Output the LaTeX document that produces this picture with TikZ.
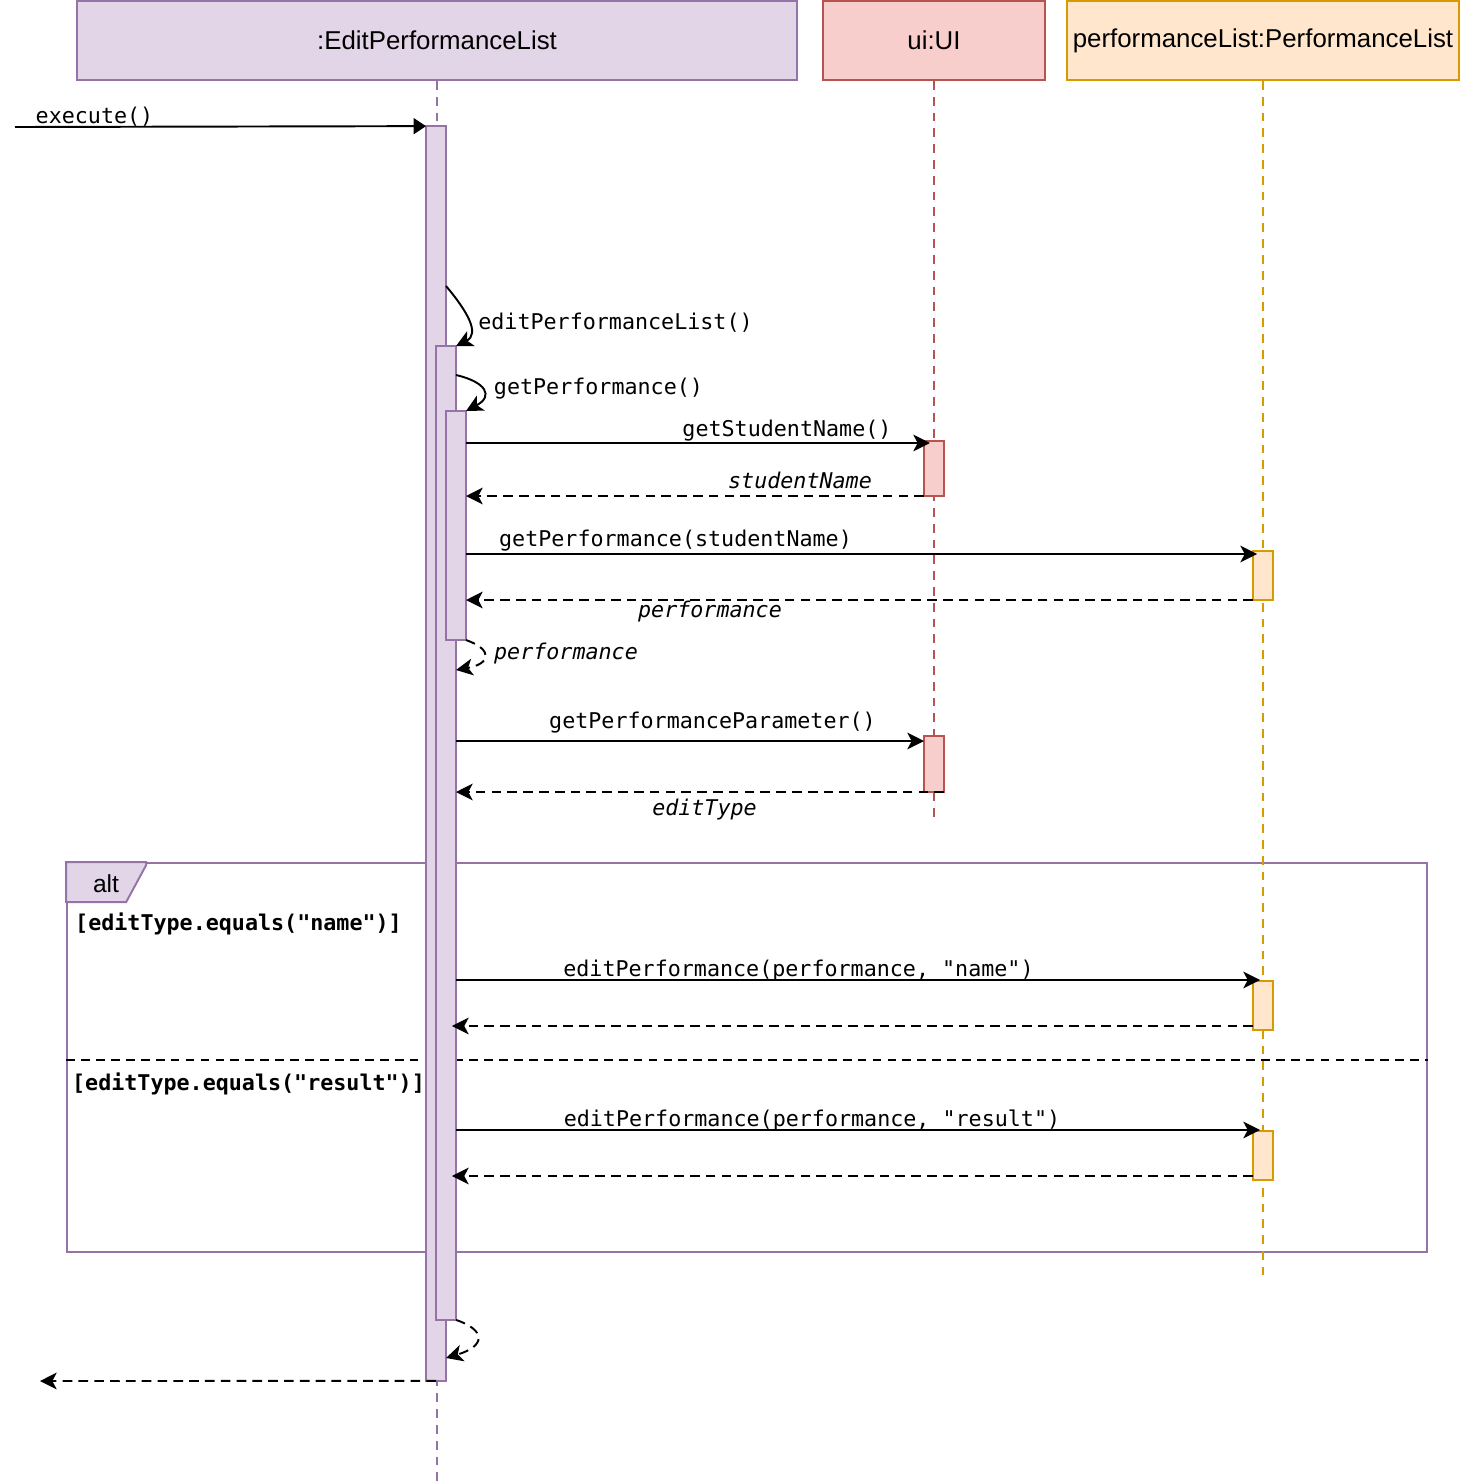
\documentclass[tikz,border=0pt]{standalone}
\usepackage{fontspec}
\setmainfont{Liberation Sans}
\setmonofont{DejaVu Sans Mono}
\usetikzlibrary{arrows.meta}
\definecolor{purpfill}{HTML}{E1D5E7}
\definecolor{purpline}{HTML}{9673A6}
\definecolor{redfill}{HTML}{F8CECC}
\definecolor{redline}{HTML}{B85450}
\definecolor{orfill}{HTML}{FFE6CC}
\definecolor{orline}{HTML}{D79B00}
\newcommand{\msgfont}{\fontsize{12.35}{14}\selectfont\ttfamily}
\tikzset{
  head/.style={draw=#1line, fill=#1fill, line width=1.1pt, inner sep=0pt,
    minimum height=1.58cm, font=\fontsize{14.7}{17}\selectfont},
  life/.style={draw=#1line, line width=1.1pt, dash pattern=on 5pt off 4pt},
  act/.style={draw=#1line, fill=#1fill, line width=1.1pt, inner sep=0pt,
    outer sep=0pt, minimum width=0.4cm},
  call/.style={line width=1.1pt, -{Stealth[length=9.5pt,width=9.5pt,inset=2.5pt]}},
  ret/.style={call, dash pattern=on 5.5pt off 3.5pt},
  found/.style={line width=1.1pt, -{Triangle[length=7pt,width=9pt]}},
  msglbl/.style={inner sep=0pt, yshift=-1.5pt, font=\msgfont},
  retlbl/.style={inner sep=0pt, font=\msgfont\itshape},
  guard/.style={inner sep=0pt, yshift=-1pt, font=\msgfont\bfseries},
}
\begin{document}
\begin{tikzpicture}[x=0.02cm, y=-0.02cm]
\useasboundingbox (0,0) rectangle (1460,1482);
%\draw[step=50,gray,very thin] (0,0) grid (1460,1482); %background grid
% heads
\node[head=purp, minimum width=14.4cm] (hEdit) at (437,40.5) {:EditPerformanceList};
\node[head=red, minimum width=4.44cm] (hUi) at (934,40.5) {ui:UI};
\node[head=or, minimum width=7.84cm] (hList) at (1263,40.5) {performanceList:PerformanceList};
% alt frame
\node[draw=purpline, line width=1.1pt, minimum width=27.2cm, minimum height=7.78cm,
  inner sep=0pt] (altbox) at (747,1057.5) {};
\draw[draw=purpline, fill=purpfill, line width=1.1pt] (altbox.north west) -- ++(80,0)
  -- ++(0,3) -- ++(-20,37) -- ++(-60,0) -- cycle;
\node[inner sep=0pt, font=\fontsize{14}{16}\selectfont] (altlbl) at (106,884) {alt};
\draw[line width=1.1pt, dash pattern=on 5pt off 3.5pt] (altbox.west |- 0,1060) -- (altbox.east |- 0,1060);
\node[guard] (g1) at (238.5,922) {[editType.equals("name")]};
\node[guard] (g2) at (248.5,1082) {[editType.equals("result")]};
% lifelines
\coordinate (eEdit) at (437,1482);
\coordinate (eUi) at (934,820);
\coordinate (eList) at (1263,1275);
\draw[life=purp] (hEdit.south) -- (eEdit);
\draw[life=red] (hUi.south) -- (eUi);
\draw[life=or] (hList.south) -- (eList);
% activations
\node[act=purp, minimum height=25.1cm] (a1) at (436,753.5) {};
\node[act=purp, minimum height=19.48cm] (a2) at (446,833) {};
\node[act=purp, minimum height=4.58cm] (a3) at (456,525.5) {};
\node[act=red, minimum height=1.1cm] (u1) at (934,468.5) {};
\node[act=red, minimum height=1.12cm] (u2) at (934,764) {};
\node[act=or, minimum height=0.98cm] (p1) at (1263,575.5) {};
\node[act=or, minimum height=0.98cm] (p2) at (1263,1005.5) {};
\node[act=or, minimum height=0.98cm] (p3) at (1263,1155.5) {};
% messages
\coordinate (entry) at (15,127);
\coordinate (exit) at (40,1381);
\draw[found] (entry) -- (a1.north west);
\node[msglbl] (l1) at (94.5,114) {execute()};
\draw[call] (a1.east |- 0,286) .. controls (468,312) and (480,334) .. (a2.north east);
\node[msglbl] (l2) at (615.5,320) {editPerformanceList()};
\draw[call] (a2.east |- 0,375) .. controls (486,382) and (494,396) .. (a3.north east);
\node[msglbl] (l3) at (598.5,386) {getPerformance()};
\draw[call, shorten >=-3.4pt] (a3.east |- 0,443) -- (u1.west |- 0,443);
\node[msglbl] (l4) at (787,428) {getStudentName()};
\draw[ret] (u1.south west) -- (a3.east |- u1.south west);
\node[retlbl] (l5) at (800,480) {studentName};
\draw[call, shorten >=-2.3pt] (a3.east |- 0,554) -- (p1.west |- 0,554);
\node[msglbl] (l6) at (675.5,538) {getPerformance(studentName)};
\draw[ret] (p1.south west) -- (a3.east |- p1.south west);
\node[retlbl] (l7) at (710,612) {performance};
\draw[ret] (a3.south east) .. controls (494,650) and (490,664) .. (a2.east |- 0,670);
\node[retlbl] (l8) at (566,654) {performance};
\draw[call] (a2.east |- 0,741) -- (u2.west |- 0,741);
\node[msglbl] (l9) at (712.5,720) {getPerformanceParameter()};
\draw[ret] (u2.south east) -- (a2.east |- u2.south east);
\node[retlbl] (l10) at (704.5,810) {editType};
\draw[call, shorten >=-4pt] (a2.east |- 0,980) -- (p2.west |- 0,980);
\node[msglbl] (l11) at (798.5,968) {editPerformance(performance, "name")};
\draw[ret, shorten >=-2.3pt] (p2.west |- 0,1026) -- (a2.east |- 0,1026);
\draw[call, shorten >=-4pt] (a2.east |- 0,1130) -- (p3.west |- 0,1130);
\node[msglbl] (l12) at (812,1118) {editPerformance(performance, "result")};
\draw[ret, shorten >=-2.3pt] (p3.west |- 0,1176) -- (a2.east |- 0,1176);
\draw[ret] (a2.south east) .. controls (486,1330) and (486,1346) .. (a1.east |- 0,1358);
\draw[ret] (a1.south) -- (exit);
\end{tikzpicture}
\end{document}
